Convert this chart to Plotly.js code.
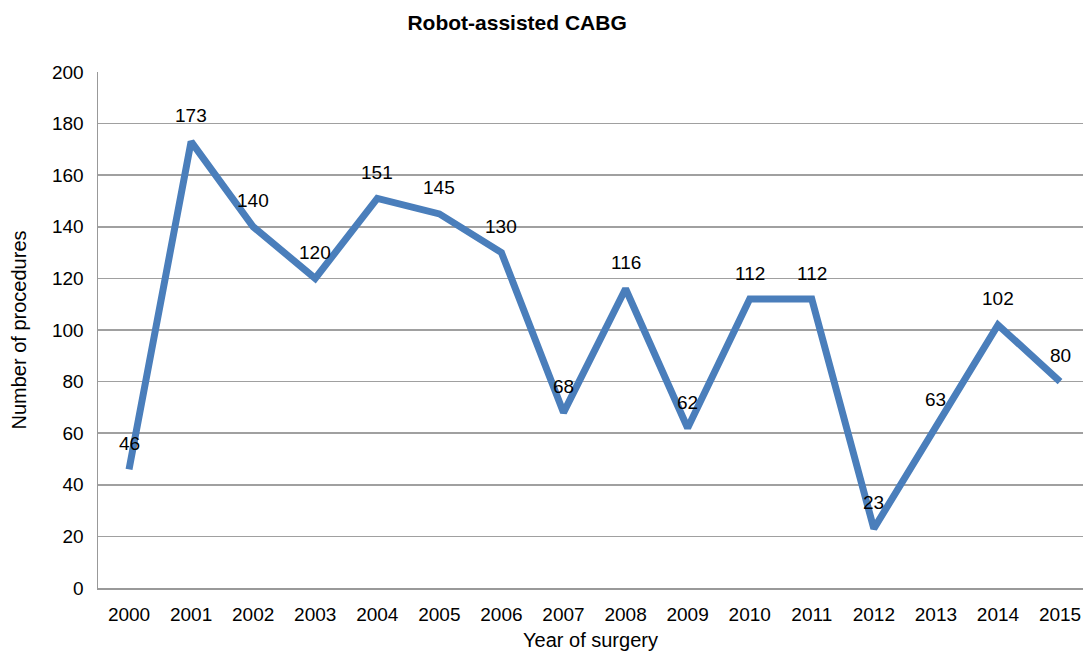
<!DOCTYPE html>
<html><head><meta charset="utf-8">
<script src="https://cdn.plot.ly/plotly-3.0.1.min.js"></script>
<style>html,body{margin:0;padding:0;background:#fff}#chart{width:1083px;height:655px}</style>
</head><body><div id="chart"></div>
<script>
const years = ['2000','2001','2002','2003','2004','2005','2006','2007','2008','2009','2010','2011','2012','2013','2014','2015'];
const procedures = [46,173,140,120,151,145,130,68,116,62,112,112,23,63,102,80];
const yTicks = [0,20,40,60,80,100,120,140,160,180,200];

const font = 'Liberation Sans, Arial, Helvetica, sans-serif';
const trace = {
  x: years, y: procedures, type: 'scatter', mode: 'lines',
  line: {color: '#4a7ebb', width: 7}, hoverinfo: 'skip'
};
const annotations = years.map((yr, i) => ({
  x: i, y: procedures[i], text: String(procedures[i]), showarrow: false,
  xref: 'x', yref: 'y', yshift: 26, font: {family: font, size: 19, color: '#000'}
}));
const layout = {
  width: 1083, height: 655,
  margin: {l: 98, r: 0, t: 72, b: 67},
  paper_bgcolor: '#fff', plot_bgcolor: '#fff',
  title: {text: '<b>Robot-assisted CABG</b>', x: 0.4775, xanchor: 'center', y: 0.966, yanchor: 'middle',
          font: {family: font, size: 21, color: '#000'}},
  showlegend: false,
  xaxis: {
    type: 'category', range: [-0.5, 15.37],
    showgrid: false, showline: true, linecolor: '#999', linewidth: 1.5,
    ticks: 'outside', ticklen: 9, tickcolor: 'rgba(0,0,0,0)',
    tickfont: {family: font, size: 19, color: '#000'},
    title: {text: 'Year of surgery', font: {family: font, size: 20, color: '#000'}, standoff: 8},
    zeroline: false, fixedrange: true
  },
  yaxis: {
    range: [0, 200], tickvals: yTicks, ticktext: yTicks.map(String),
    showgrid: true, gridcolor: '#a0a0a0', gridwidth: 1.5,
    showline: true, linecolor: '#999', linewidth: 1.5,
    ticks: 'outside', ticklen: 9, tickcolor: 'rgba(0,0,0,0)',
    tickfont: {family: font, size: 19, color: '#000'},
    title: {text: 'Number of procedures', font: {family: font, size: 20, color: '#000'}, standoff: 20},
    zeroline: false, fixedrange: true
  },
  annotations: annotations
};
Plotly.newPlot('chart', [trace], layout, {displayModeBar: false, staticPlot: true});
</script></body></html>
